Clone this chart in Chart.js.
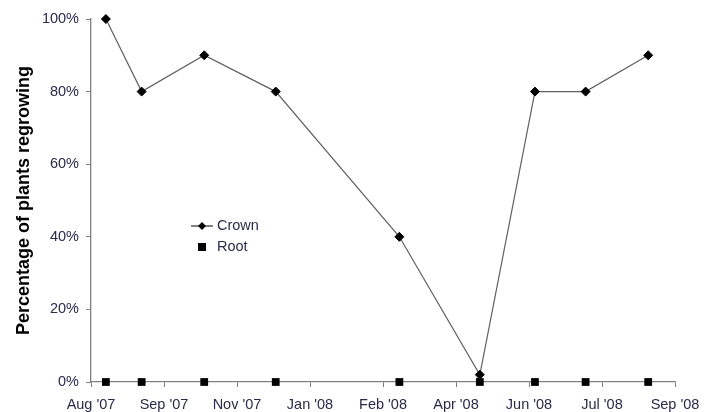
<!DOCTYPE html>
<html>
<head>
<meta charset="utf-8">
<script src="https://cdn.jsdelivr.net/npm/chart.js@4/dist/chart.umd.min.js"></script>
<style>
  html, body { margin: 0; padding: 0; background: #fff; }
  #wrap { width: 711px; height: 412px; position: relative; }
</style>
</head>
<body>
<div id="wrap"><canvas id="chart"></canvas></div>
<script>
// Tick labels, one per 49-day step starting 12 Aug 2007
const TICK_LABELS = ["Aug '07", "Sep '07", "Nov '07", "Jan '08", "Feb '08", "Apr '08", "Jun '08", "Jul '08", "Sep '08"]
const TICK_STEP = 49
// Sampling dates, as days after 12 Aug 2007
const SAMPLE_DAYS = [10, 34, 76, 124, 207, 261, 298, 332, 374]
const CROWN = [100, 80, 90, 80, 40, 2, 80, 80, 90]
const ROOT = [0, 0, 0, 0, 0, 0, 0, 0, 0]

const TEXT = '#2a2a4a'
const AXIS = '#808080'
const FONT = "'Liberation Sans', Arial, sans-serif"

const pts = vals => SAMPLE_DAYS.map((d, i) => ({ x: d, y: vals[i] }))

// Legend sits inside the plot area, like the original
const innerLegend = {
  id: 'innerLegend',
  afterDraw(chart) {
    const ctx = chart.ctx
    ctx.save()
    ctx.fillStyle = '#000'
    ctx.strokeStyle = '#000'
    ctx.lineWidth = 1
    // Crown: line + diamond
    ctx.beginPath(); ctx.moveTo(191, 226); ctx.lineTo(213, 226); ctx.stroke()
    ctx.beginPath()
    ctx.moveTo(202, 222); ctx.lineTo(206, 226); ctx.lineTo(202, 230); ctx.lineTo(198, 226)
    ctx.closePath(); ctx.fill()
    // Root: square
    ctx.fillRect(198, 243, 8, 8)
    ctx.fillStyle = TEXT
    ctx.font = `14.5px ${FONT}`
    ctx.textBaseline = 'middle'
    ctx.fillText('Crown', 217, 226)
    ctx.fillText('Root', 217, 247)
    ctx.restore()
  }
}

new Chart(document.getElementById('chart'), {
  type: 'scatter',
  data: {
    datasets: [
      {
        label: 'Crown', data: pts(CROWN), showLine: true, clip: false,
        borderColor: '#606060', borderWidth: 1.2,
        pointStyle: 'rectRot', pointRadius: 4.5, pointBackgroundColor: '#000', pointBorderColor: '#000', pointBorderWidth: 1
      },
      {
        label: 'Root', data: pts(ROOT), showLine: false, clip: false,
        pointStyle: 'rect', pointRadius: 5.5, pointBackgroundColor: '#000', pointBorderColor: '#000', pointBorderWidth: 0
      }
    ]
  },
  options: {
    responsive: true, maintainAspectRatio: false, animation: false,
    layout: { padding: { left: 0, right: 36, top: 19, bottom: 0 } },
    plugins: { legend: { display: false }, tooltip: { enabled: false } },
    scales: {
      x: {
        type: 'linear', min: 0, max: TICK_STEP * (TICK_LABELS.length - 1),
        afterFit: s => { s.height = 30 },
        afterBuildTicks: s => { s.ticks = TICK_LABELS.map((_, i) => ({ value: i * TICK_STEP })) },
        ticks: {
          color: TEXT, font: { family: FONT, size: 14.5 }, padding: 9, maxRotation: 0, autoSkip: false,
          callback: v => TICK_LABELS[Math.round(v / TICK_STEP)]
        },
        grid: { drawOnChartArea: false, color: AXIS, tickLength: 5, tickColor: AXIS },
        border: { color: AXIS, width: 1.3 }
      },
      y: {
        min: 0, max: 100,
        afterFit: s => { s.width = 91 },
        ticks: { stepSize: 20, color: TEXT, font: { family: FONT, size: 14.5 }, padding: 7, callback: v => v + '%' },
        grid: { drawOnChartArea: false, color: AXIS, tickLength: 5, tickColor: AXIS },
        border: { color: AXIS, width: 1.3 },
        title: {
          display: true, text: 'Percentage of plants regrowing', color: '#000',
          font: { family: FONT, size: 18, weight: 'bold' }, padding: { top: 13, bottom: 0 }
        }
      }
    }
  },
  plugins: [innerLegend]
})
</script>
</body>
</html>
